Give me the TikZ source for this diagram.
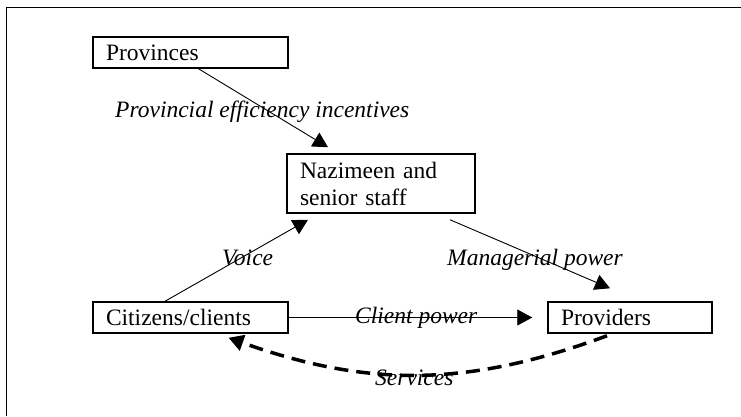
\documentclass[tikz,border=0pt]{standalone}
\usepackage{fontspec}
\setmainfont{Liberation Serif}
\usetikzlibrary{calc,arrows.meta}

\begin{document}
\begin{tikzpicture}[x=1pt,y=-1pt,>={Triangle[length=15pt,width=16pt]},
	box/.style={draw,line width=1.5pt,align=left,inner xsep=13pt,inner ysep=0pt,minimum height=31pt},
	lab/.style={anchor=base west,inner sep=0pt,font=\itshape},
	link/.style={line width=0.9pt,->}]
				\useasboundingbox (0,0) rectangle (741,416);
				\fontsize{23.5}{27}\selectfont
				\draw[line width=1pt] (6,416) |- (741,7);
				\node[box,text width=169pt] (prov) at (190.5,52.5) {Provinces};
				\node[box,text width=162pt,minimum height=59pt] (naz) at (381,183.5) {Nazimeen and\\senior staff};
				\node[box,text width=169pt] (cit) at (190.5,317.5) {Citizens/clients};
				\node[box,text width=138pt] (prv) at (630,317.5) {Providers};
				% labels sit on top of the arrows
				\node[lab] (lpi) at (115,117) {Provincial efficiency incentives};
				\node[lab] (lvo) at (222,265) {Voice};
				\node[lab] (lmp) at (447,265) {Managerial power};
				\node[lab] (lcp) at (355,323) {Client power};
				\node[lab] (lse) at (375,385) {Services};
				\draw[link] ([xshift=8pt]prov.south) -- ([xshift=-53pt,yshift=6pt]naz.north);
				\draw[link] ([xshift=-25.5pt]cit.north) -- ([xshift=-73pt,yshift=-6pt]naz.south);
				\draw[link] ([xshift=69pt,yshift=-6pt]naz.south) -- ([xshift=-20pt,yshift=13pt]prv.north);
				\draw[link] (cit.east) -- ([xshift=-15pt]prv.west);
				\draw[->,line width=3.5pt,dash pattern=on 14pt off 8pt] ([xshift=-23pt,yshift=-2pt]prv.south)
				to[bend left=20] ([xshift=38pt,yshift=-4pt]cit.south);
			\end{tikzpicture}
\end{document}
